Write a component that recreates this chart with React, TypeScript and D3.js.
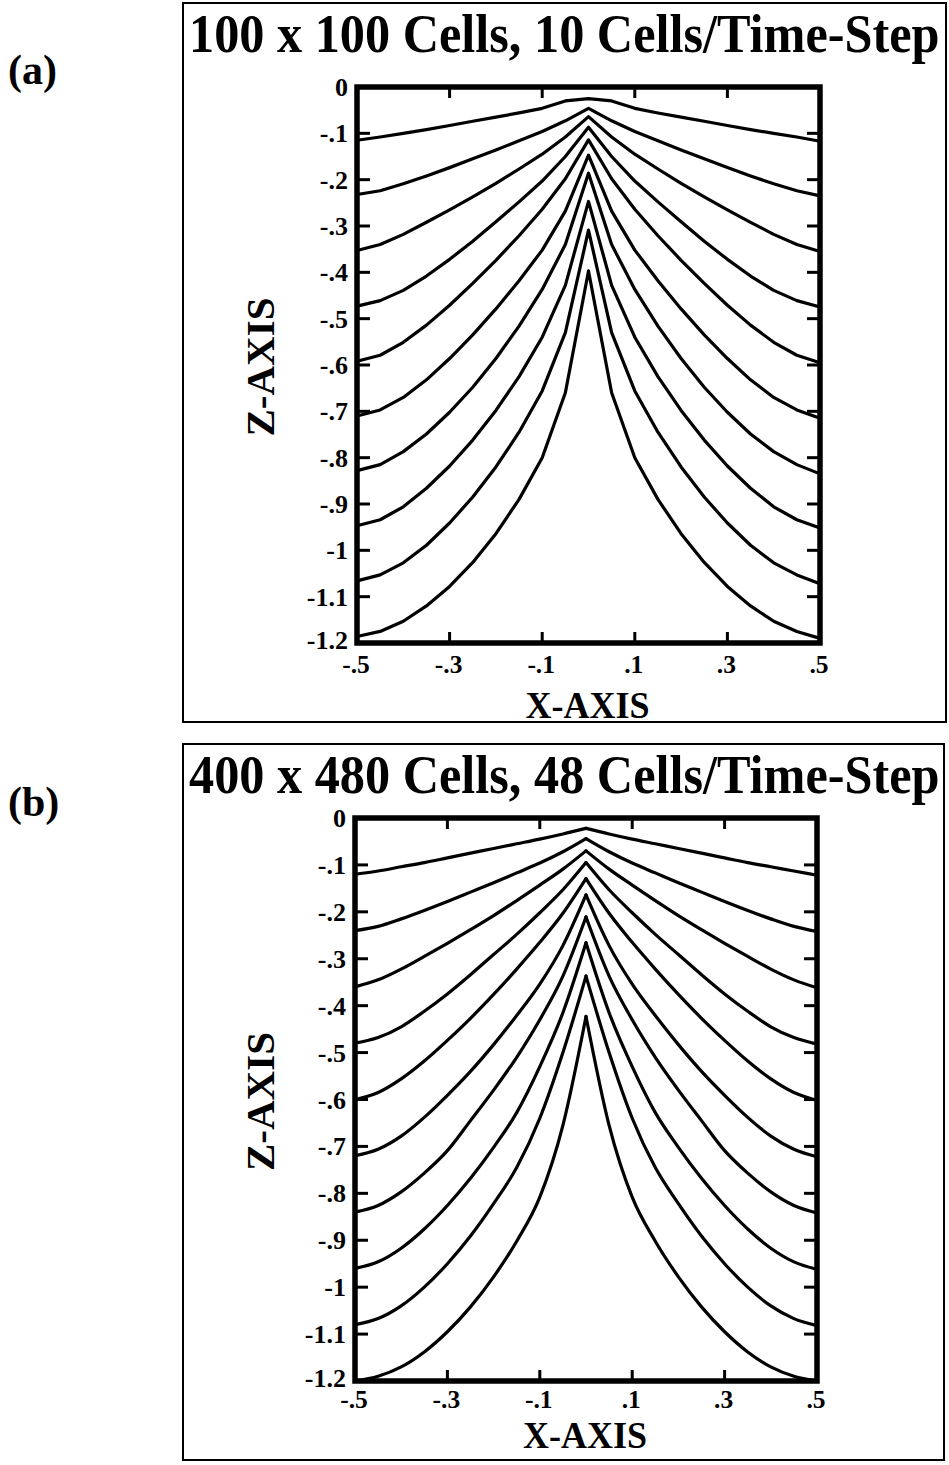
import React from 'react';
import * as d3 from 'd3';

// ---------------- data ----------------
const xGrid = [-0.5, -0.45, -0.4, -0.35, -0.3, -0.25, -0.2, -0.15, -0.1, -0.05, 0, 0.05, 0.1, 0.15, 0.2, 0.25, 0.3, 0.35, 0.4, 0.45, 0.5];

const yTickValues = [0, -0.1, -0.2, -0.3, -0.4, -0.5, -0.6, -0.7, -0.8, -0.9, -1.0, -1.1, -1.2];
const yTickLabels = ['0', '-.1', '-.2', '-.3', '-.4', '-.5', '-.6', '-.7', '-.8', '-.9', '-1', '-1.1', '-1.2'];
const xTickValues = [-0.5, -0.3, -0.1, 0.1, 0.3, 0.5];
const xTickLabels = ['-.5', '-.3', '-.1', '.1', '.3', '.5'];
const innerXTicks = [-0.3, -0.1, 0.1, 0.3];
const innerYTicks = [-0.1, -0.2, -0.3, -0.4, -0.5, -0.6, -0.7, -0.8, -0.9, -1.0, -1.1];

const xAxisTitle = 'X-AXIS';
const zAxisTitle = 'Z-AXIS';
const coarseTitle = '100 x 100 Cells, 10 Cells/Time-Step';
const fineTitle = '400 x 480 Cells, 48 Cells/Time-Step';
const coarseTag = '(a)';
const fineTag = '(b)';

// panel (a): 100 x 100 cells
const coarseCurves = [
  [-0.115, -0.108, -0.100, -0.092, -0.083, -0.074, -0.065, -0.056, -0.046, -0.030, -0.025, -0.030, -0.046, -0.056, -0.065, -0.074, -0.083, -0.092, -0.100, -0.108, -0.117],
  [-0.232, -0.224, -0.209, -0.192, -0.174, -0.155, -0.136, -0.116, -0.096, -0.073, -0.046, -0.073, -0.096, -0.116, -0.136, -0.155, -0.174, -0.192, -0.209, -0.224, -0.235],
  [-0.353, -0.340, -0.318, -0.292, -0.265, -0.237, -0.208, -0.177, -0.145, -0.108, -0.064, -0.108, -0.145, -0.177, -0.208, -0.237, -0.265, -0.292, -0.318, -0.340, -0.355],
  [-0.473, -0.461, -0.439, -0.408, -0.372, -0.333, -0.291, -0.248, -0.203, -0.150, -0.087, -0.150, -0.203, -0.248, -0.291, -0.333, -0.372, -0.408, -0.439, -0.461, -0.475],
  [-0.592, -0.579, -0.551, -0.514, -0.471, -0.424, -0.374, -0.321, -0.264, -0.198, -0.114, -0.198, -0.264, -0.321, -0.374, -0.424, -0.471, -0.514, -0.551, -0.579, -0.595],
  [-0.710, -0.697, -0.670, -0.632, -0.586, -0.535, -0.479, -0.418, -0.352, -0.268, -0.147, -0.268, -0.352, -0.418, -0.479, -0.535, -0.586, -0.632, -0.670, -0.697, -0.715],
  [-0.828, -0.815, -0.787, -0.749, -0.702, -0.648, -0.586, -0.516, -0.437, -0.340, -0.186, -0.340, -0.437, -0.516, -0.586, -0.648, -0.702, -0.749, -0.787, -0.815, -0.835],
  [-0.947, -0.934, -0.906, -0.866, -0.818, -0.762, -0.698, -0.625, -0.540, -0.428, -0.247, -0.428, -0.540, -0.625, -0.698, -0.762, -0.818, -0.866, -0.906, -0.934, -0.952],
  [-1.066, -1.053, -1.027, -0.989, -0.941, -0.885, -0.820, -0.745, -0.656, -0.530, -0.309, -0.530, -0.656, -0.745, -0.820, -0.885, -0.941, -0.989, -1.027, -1.053, -1.072],
  [-1.186, -1.175, -1.153, -1.120, -1.078, -1.026, -0.964, -0.890, -0.800, -0.660, -0.397, -0.660, -0.800, -0.890, -0.964, -1.026, -1.078, -1.120, -1.153, -1.175, -1.190],
];

// panel (b): 400 x 480 cells
const fineCurves = [
  [-0.120, -0.113, -0.104, -0.095, -0.085, -0.075, -0.065, -0.055, -0.045, -0.034, -0.022, -0.034, -0.045, -0.055, -0.065, -0.075, -0.085, -0.095, -0.104, -0.113, -0.122],
  [-0.240, -0.231, -0.215, -0.197, -0.178, -0.158, -0.138, -0.117, -0.096, -0.072, -0.044, -0.072, -0.096, -0.117, -0.138, -0.158, -0.178, -0.197, -0.215, -0.231, -0.242],
  [-0.360, -0.345, -0.322, -0.295, -0.267, -0.238, -0.208, -0.176, -0.143, -0.109, -0.070, -0.109, -0.143, -0.176, -0.208, -0.238, -0.267, -0.295, -0.322, -0.345, -0.362],
  [-0.480, -0.468, -0.445, -0.412, -0.375, -0.334, -0.291, -0.248, -0.202, -0.153, -0.095, -0.153, -0.202, -0.248, -0.291, -0.334, -0.375, -0.412, -0.445, -0.468, -0.482],
  [-0.600, -0.585, -0.556, -0.518, -0.474, -0.427, -0.376, -0.322, -0.265, -0.203, -0.129, -0.203, -0.265, -0.322, -0.376, -0.427, -0.474, -0.518, -0.556, -0.585, -0.602],
  [-0.720, -0.706, -0.678, -0.638, -0.591, -0.540, -0.483, -0.421, -0.354, -0.272, -0.164, -0.272, -0.354, -0.421, -0.483, -0.540, -0.591, -0.638, -0.678, -0.706, -0.722],
  [-0.840, -0.826, -0.797, -0.757, -0.709, -0.645, -0.580, -0.510, -0.430, -0.337, -0.211, -0.337, -0.430, -0.510, -0.580, -0.645, -0.709, -0.757, -0.797, -0.826, -0.842],
  [-0.960, -0.946, -0.917, -0.876, -0.826, -0.768, -0.702, -0.628, -0.530, -0.415, -0.266, -0.415, -0.530, -0.628, -0.702, -0.768, -0.826, -0.876, -0.917, -0.946, -0.962],
  [-1.080, -1.067, -1.040, -1.000, -0.950, -0.891, -0.822, -0.745, -0.640, -0.500, -0.337, -0.500, -0.640, -0.745, -0.822, -0.891, -0.950, -1.000, -1.040, -1.067, -1.082],
  [-1.200, -1.190, -1.170, -1.138, -1.095, -1.042, -0.978, -0.902, -0.808, -0.655, -0.423, -0.655, -0.808, -0.902, -0.978, -1.042, -1.095, -1.138, -1.170, -1.190, -1.200],
];

// ---------------- drawing ----------------
const FONT = "'Liberation Serif', 'Times New Roman', Times, serif";

type Layout = {
  box: { x: number; y: number; w: number; h: number };
  plot: { l: number; r: number; t: number; b: number };
  titleBase: number;
  tickLabelBase: number;
  xTitleBase: number;
  tagBase: number;
};

const layoutA: Layout = {
  box: { x: 183, y: 3, w: 763, h: 719 },
  plot: { l: 357, r: 820, t: 87, b: 643 },
  titleBase: 52,
  tickLabelBase: 673,
  xTitleBase: 718,
  tagBase: 84,
};

const layoutB: Layout = {
  box: { x: 183, y: 744, w: 761, h: 716 },
  plot: { l: 355, r: 817, t: 818, b: 1381 },
  titleBase: 793,
  tickLabelBase: 1408,
  xTitleBase: 1448,
  tagBase: 816,
};

function Panel({ L, title, tag, curves, smooth }: { L: Layout; title: string; tag: string; curves: number[][]; smooth: boolean }) {
  const { plot, box } = L;
  const x = d3.scaleLinear().domain([-0.5, 0.5]).range([plot.l, plot.r]);
  const y = d3.scaleLinear().domain([0, -1.2]).range([plot.t, plot.b]);

  const line = d3
    .line<[number, number]>()
    .x((d) => x(d[0]))
    .y((d) => y(d[1]))
    .curve(smooth ? d3.curveMonotoneX : d3.curveLinear);

  const paths: string[] = [];
  curves.forEach((c) => {
    const pts: [number, number][] = xGrid.map((xv, i) => [xv, c[i]]);
    const mid = xGrid.indexOf(0);
    if (smooth) {
      paths.push(line(pts.slice(0, mid + 1)) || '');
      paths.push(line(pts.slice(mid)) || '');
    } else {
      paths.push(line(pts) || '');
    }
  });

  const cx = (plot.l + plot.r) / 2;
  const cy = (plot.t + plot.b) / 2;

  return (
    <g fontFamily={FONT} fontWeight="bold" fill="#000">
      <rect x={box.x} y={box.y} width={box.w} height={box.h} fill="none" stroke="#000" strokeWidth={2} />
      <text transform={`translate(${box.x + 6}, ${L.titleBase}) scale(1, 1.1)`} x={0} y={0} fontSize={50.3}>
        {title}
      </text>
      <text x={8} y={L.tagBase} fontSize={42}>
        {tag}
      </text>

      {paths.map((p, i) => (
        <path key={i} d={p} fill="none" stroke="#000" strokeWidth={3.2} strokeLinejoin="round" strokeLinecap="round" />
      ))}

      {/* ticks */}
      {innerYTicks.map((v) => (
        <g key={'yt' + v}>
          <line x1={plot.l} x2={plot.l + 13} y1={y(v)} y2={y(v)} stroke="#000" strokeWidth={3} />
          <line x1={plot.r} x2={plot.r - 13} y1={y(v)} y2={y(v)} stroke="#000" strokeWidth={3} />
        </g>
      ))}
      {innerXTicks.map((v) => (
        <g key={'xt' + v}>
          <line x1={x(v)} x2={x(v)} y1={plot.t} y2={plot.t + 11} stroke="#000" strokeWidth={3} />
          <line x1={x(v)} x2={x(v)} y1={plot.b} y2={plot.b - 11} stroke="#000" strokeWidth={3} />
        </g>
      ))}
      <rect x={plot.l} y={plot.t} width={plot.r - plot.l} height={plot.b - plot.t} fill="none" stroke="#000" strokeWidth={5.5} />

      {/* tick labels */}
      {yTickValues.map((v, i) => (
        <text key={'yl' + i} x={plot.l - 9} y={y(v) + (i === yTickValues.length - 1 ? 6 : 9)} fontSize={26} textAnchor="end">
          {yTickLabels[i]}
        </text>
      ))}
      {xTickValues.map((v, i) => (
        <text key={'xl' + i} x={x(v) - 1} y={L.tickLabelBase} fontSize={25.5} textAnchor="middle">
          {xTickLabels[i]}
        </text>
      ))}

      <text transform={`translate(${cx - 1}, ${L.xTitleBase}) scale(1, 1.06)`} x={0} y={0} fontSize={36} textAnchor="middle">
        {xAxisTitle}
      </text>
      <text transform={`translate(274, ${cy + 2}) rotate(-90)`} x={0} y={0} fontSize={41} textAnchor="middle">
        {zAxisTitle}
      </text>
    </g>
  );
}

export default function App() {
  return (
    <svg
      width={949}
      height={1465}
      viewBox="0 0 949 1465"
      style={{ position: 'absolute', left: 0, top: 0, display: 'block', background: '#fff' }}
    >
      <rect x={0} y={0} width={949} height={1465} fill="#fff" />
      <Panel L={layoutA} title={coarseTitle} tag={coarseTag} curves={coarseCurves} smooth={false} />
      <Panel L={layoutB} title={fineTitle} tag={fineTag} curves={fineCurves} smooth={true} />
    </svg>
  );
}
